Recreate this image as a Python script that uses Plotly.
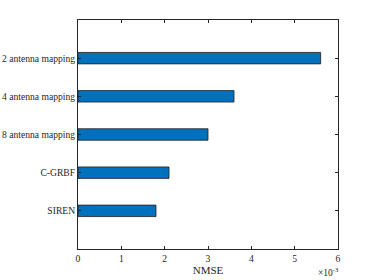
import plotly.graph_objects as go

categories = ["2 antenna mapping", "4 antenna mapping", "8 antenna mapping", "C-GRBF", "SIREN"]
nmse_e3 = [5.6, 3.6, 3.0, 2.1, 1.8]
positions = [5, 4, 3, 2, 1]
x_ticks = [0, 1, 2, 3, 4, 5, 6]

font = dict(family="Liberation Serif", size=9.6, color="#262626")

fig = go.Figure()
fig.add_trace(go.Bar(
    x=nmse_e3, y=positions, orientation="h", width=0.3,
    marker=dict(color="#0072BD", line=dict(color="#1f1f1f", width=0.8)),
    showlegend=False,
))
fig.update_layout(
    width=374, height=280,
    margin=dict(l=78, r=36, t=20, b=31),
    paper_bgcolor="white", plot_bgcolor="white",
    font=font,
    xaxis=dict(range=[0, 6], tickvals=x_ticks, ticktext=[str(v) for v in x_ticks],
               ticks="inside", ticklen=3, tickcolor="#262626", showgrid=False, zeroline=False,
               showline=True, linecolor="#262626", linewidth=1, mirror="ticks", automargin=False,
               ticklabelstandoff=0,
               title=dict(text="NMSE", standoff=0, font=dict(family="Liberation Serif", size=11, color="#262626"))),
    yaxis=dict(range=[0, 6], tickvals=positions, ticktext=categories, automargin=False,
               ticks="inside", ticklen=3, tickcolor="#262626", showgrid=False, zeroline=False,
               showline=True, linecolor="#262626", linewidth=1, mirror="ticks",
               ticklabelstandoff=0),
    annotations=[dict(text="×10<sup>-3</sup>", x=1.0, y=0, xref="paper", yref="paper",
                      xanchor="right", yanchor="top", yshift=-15, xshift=3, showarrow=False,
                      font=dict(family="Liberation Serif", size=9.5, color="#262626"))],
)
fig.write_html("out.html", config={"displayModeBar": False},
               post_script="document.body.style.margin='0';document.body.style.overflow='hidden';")
